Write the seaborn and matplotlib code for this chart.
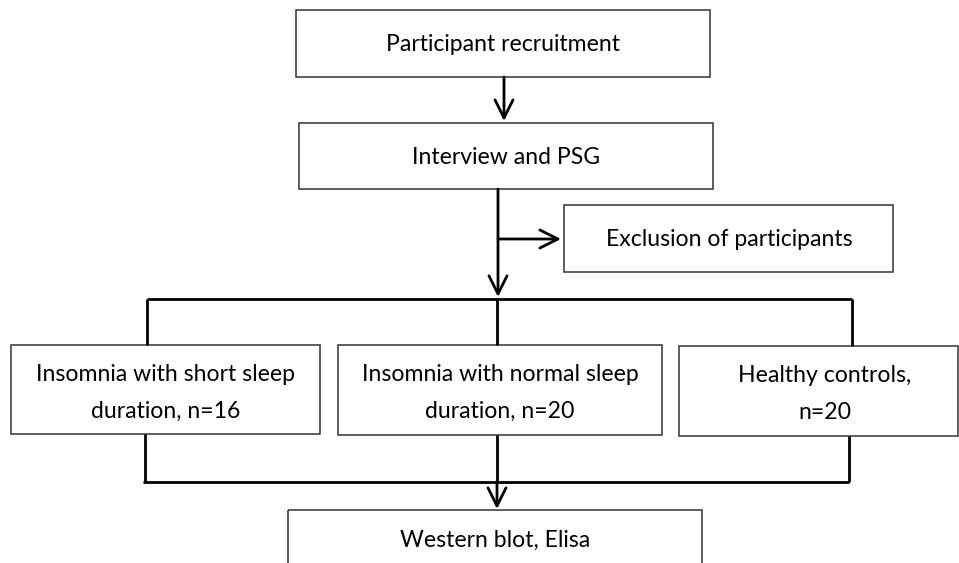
import matplotlib.pyplot as plt
import seaborn as sns
from matplotlib.patches import Rectangle, FancyArrowPatch

sns.set_style("white")
plt.rcParams["font.family"] = ["Lato", "DejaVu Sans"]

# box labels, top to bottom
step_labels = ["Participant recruitment", "Interview and PSG"]
exclusion_label = "Exclusion of participants"
group_labels = [
    "Insomnia with short sleep\nduration, n=16",
    "Insomnia with normal sleep\nduration, n=20",
    "Healthy controls,\nn=20",
]
final_label = "Western blot, Elisa"

# box geometry in pixels: (x0, y0, x1, y1)
step_boxes = [(296, 10, 710, 77), (299, 123, 713, 189)]
exclusion_box = (564, 205, 893, 272)
group_boxes = [(11, 345, 320, 434), (338, 345, 662, 435), (679, 346, 958, 436)]
final_box = (288, 510, 702, 575)

fig = plt.figure(figsize=(9.59, 5.63), dpi=100)
ax = fig.add_axes([0, 0, 1, 1])
ax.set_xlim(0, 959)
ax.set_ylim(563, 0)
ax.axis("off")

BOX_EDGE = "#333333"
LINE = "black"
FS = 16.6


def box(b, label, tx=None, ty=None):
    x0, y0, x1, y1 = b
    ax.add_patch(Rectangle((x0, y0), x1 - x0, y1 - y0, fill=False,
                           edgecolor=BOX_EDGE, lw=1.1))
    cx = (x0 + x1) / 2 if tx is None else tx
    cy = (y0 + y1) / 2 if ty is None else ty
    ax.text(cx, cy, label, ha="center", va="center", fontsize=FS,
            color="black", linespacing=1.9)


def line(xs, ys):
    ax.plot(xs, ys, color=LINE, lw=2, solid_capstyle="butt")


def arrow(p0, p1):
    ax.add_patch(FancyArrowPatch(p0, p1,
                                 arrowstyle="->,head_length=1.3,head_width=0.65",
                                 mutation_scale=10, color=LINE, lw=2,
                                 shrinkA=0, shrinkB=0))


for b, lab in zip(step_boxes, step_labels):
    box(b, lab, ty=(b[1] + b[3]) / 2 + 1)
box(exclusion_box, exclusion_label, tx=729, ty=240)
box(group_boxes[0], group_labels[0], tx=166, ty=393)
box(group_boxes[1], group_labels[1], tx=500, ty=393)
box(group_boxes[2], group_labels[2], tx=825, ty=394)
box(final_box, final_label, tx=495, ty=540)

# connectors
arrow((504, 77), (504, 121))
arrow((498, 189), (498, 297))
arrow((498, 239), (561, 239))

line([147, 852], [299, 299])
line([147, 147], [299, 345])
line([497, 497], [299, 345])
line([852, 852], [299, 346])

line([145, 145], [434, 482])
line([849, 849], [436, 482])
line([143, 849], [482, 482])
line([497, 497], [435, 482])
arrow((497, 482), (497, 509))

fig.savefig("out.png", dpi=100)
